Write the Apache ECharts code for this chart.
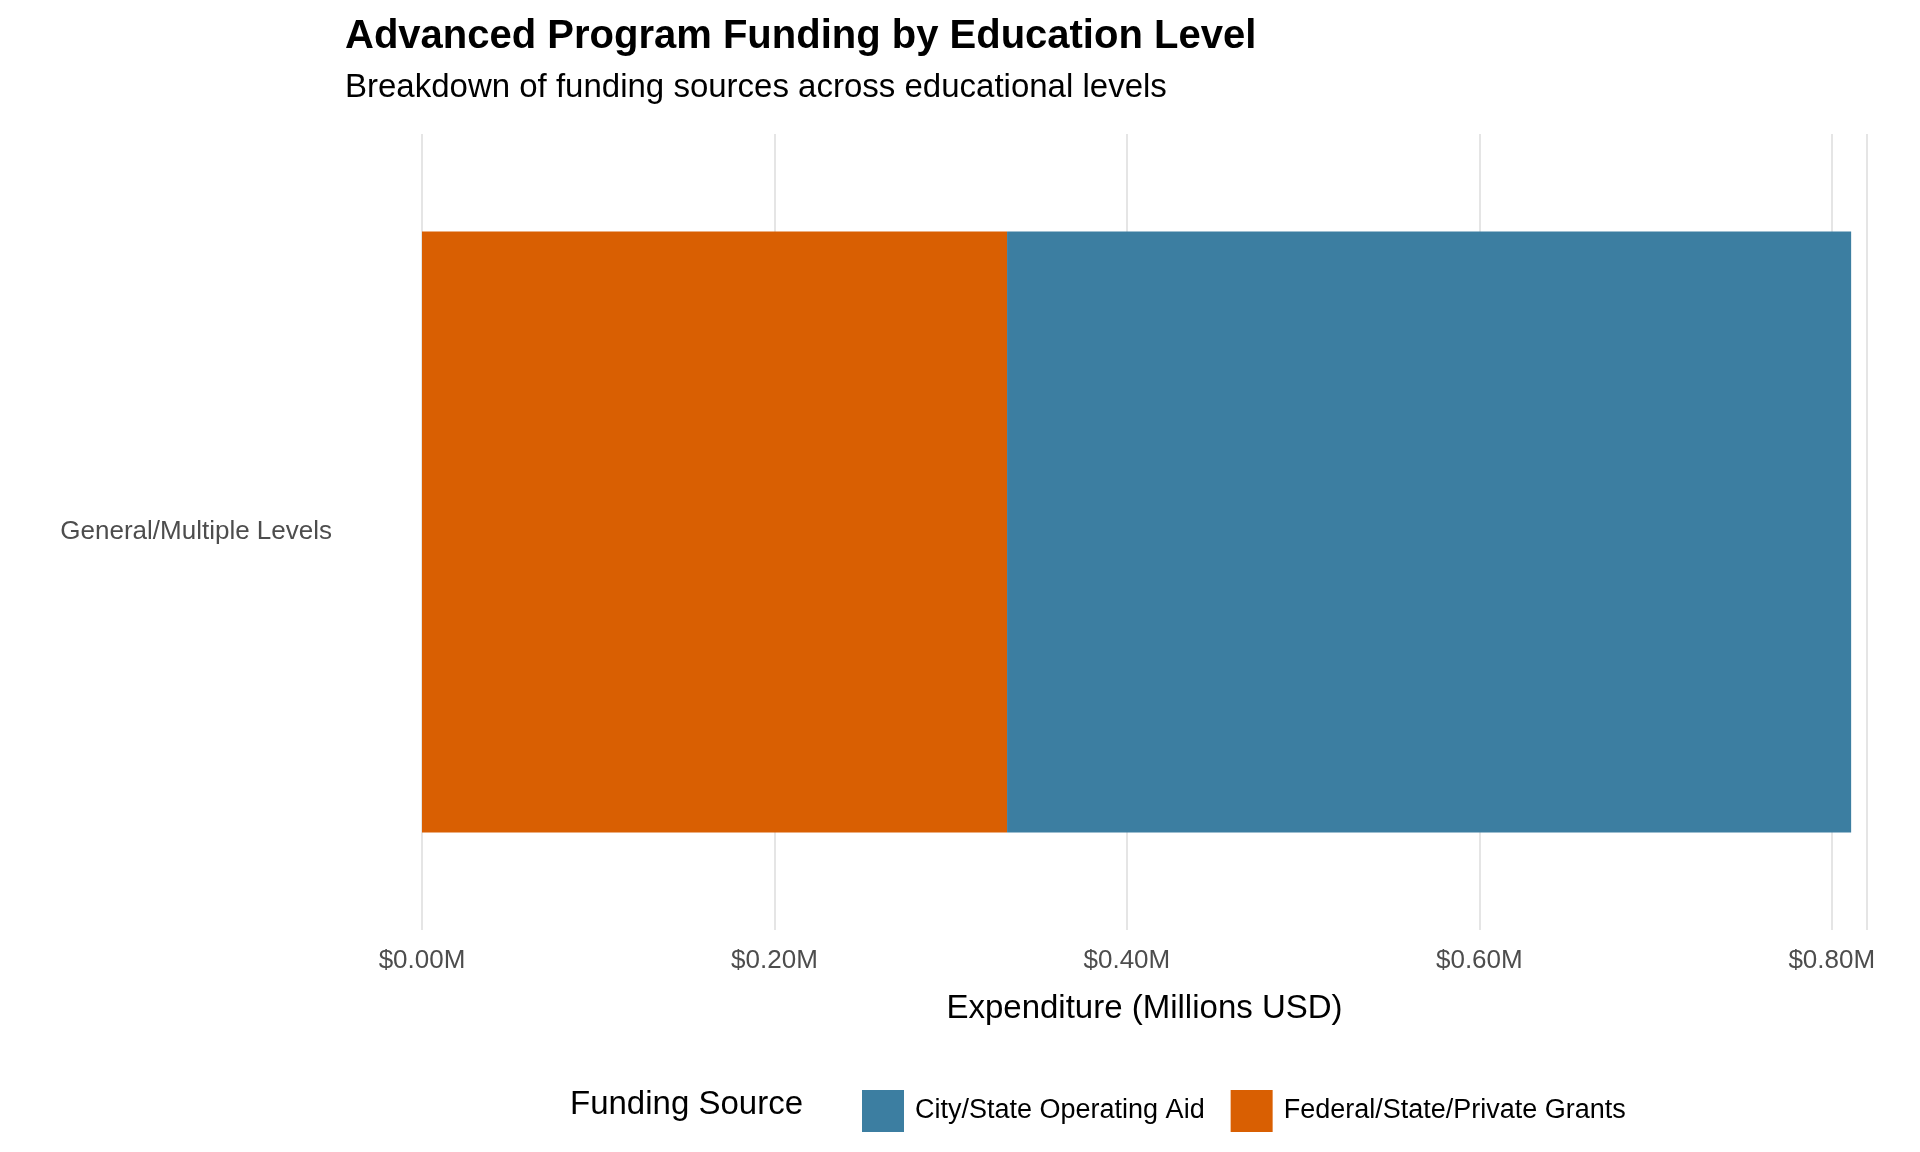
<!DOCTYPE html>
<html>
<head>
    <meta charset="utf-8">
    <title>Advanced Program Funding</title>
    <script src="https://cdn.jsdelivr.net/npm/echarts@6/dist/echarts.min.js"></script>
</head>
<body style="margin:0">
    <div id="main" style="width:1920px;height:1152px;"></div>
    <script type="text/javascript">
        var categories = ['General/Multiple Levels'];
        var cityAid = [0.479];
        var grants = [0.332];
        var tickValues = [0, 0.2, 0.4, 0.6, 0.8];

        var font = 'Liberation Sans, Arial, sans-serif';
        var myChart = echarts.init(document.getElementById('main'));

        var option = {
            backgroundColor: '#fff',
            title: {
                text: 'Advanced Program Funding by Education Level',
                subtext: 'Breakdown of funding sources across educational levels',
                left: 340, top: 12,
                textStyle: { fontFamily: font, fontSize: 40, fontWeight: 'bold', color: '#000' },
                subtextStyle: { fontFamily: font, fontSize: 33, color: '#000' },
                itemGap: 14
            },
            graphic: [{
                type: 'text', left: 570, top: 1088,
                style: { text: 'Funding Source', font: '33px ' + font, fill: '#000' }
            }],
            legend: {
                left: 857, top: 1085,
                itemWidth: 42, itemHeight: 42, itemGap: 26,
                icon: 'rect',
                data: ['City/State Operating Aid', 'Federal/State/Private Grants'],
                textStyle: { fontFamily: font, fontSize: 27, color: '#000', padding: [0, 0, 0, 6] }
            },
            grid: { left: 422, right: 53, top: 134, bottom: 222 },
            xAxis: {
                type: 'value', min: 0, max: 0.82, interval: 0.2,
                name: 'Expenditure (Millions USD)', nameLocation: 'middle', nameGap: 62,
                nameTextStyle: { fontFamily: font, fontSize: 33, color: '#000' },
                axisLine: { show: false }, axisTick: { show: false },
                axisLabel: {
                    fontFamily: font, fontSize: 26, color: '#4d4d4d', margin: 18,
                    showMaxLabel: false,
                    formatter: function (v) {
                        return tickValues.some(function (t) { return Math.abs(t - v) < 1e-9; }) ? '$' + v.toFixed(2) + 'M' : '';
                    }
                },
                splitLine: { lineStyle: { color: '#e5e5e5', width: 2 } }
            },
            yAxis: {
                type: 'category', data: categories,
                axisLine: { show: false }, axisTick: { show: false },
                axisLabel: { fontFamily: font, fontSize: 26, color: '#4d4d4d', margin: 90 },
                splitLine: { show: false }
            },
            series: [{
                name: 'Federal/State/Private Grants', type: 'bar', stack: 'a',
                data: grants, barWidth: '75.5%', itemStyle: { color: '#D95F02' }
            }, {
                name: 'City/State Operating Aid', type: 'bar', stack: 'a',
                data: cityAid, itemStyle: { color: '#3C7EA1' }
            }]
        };
        myChart.setOption(option);
    </script>
</body>
</html>
